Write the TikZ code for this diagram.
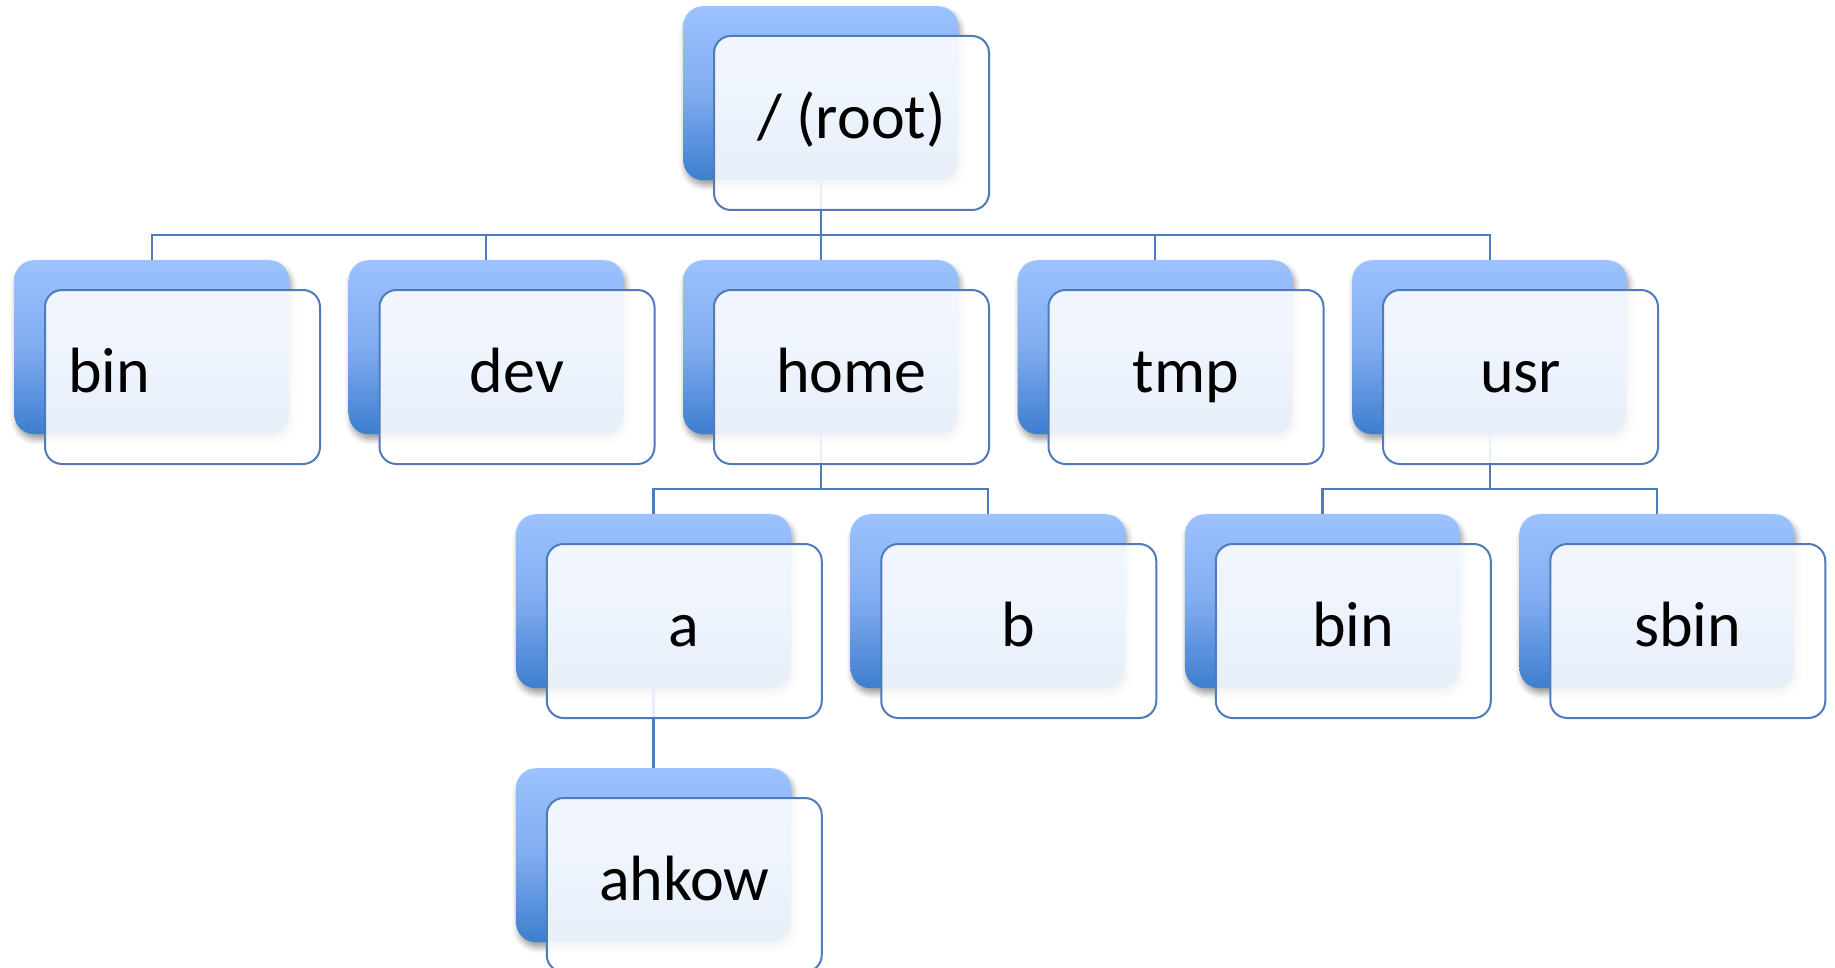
\documentclass[tikz,border=0pt]{standalone}
\usepackage{fontspec}
\setmainfont{Carlito}
\usetikzlibrary{shadows.blur}

\definecolor{edgeblue}{RGB}{79,123,186}
\definecolor{tiletop}{RGB}{156,194,255}
\definecolor{tilemid}{RGB}{128,172,240}
\definecolor{tilebot}{RGB}{61,126,207}

\tikzset{
  backbox/.style={rectangle, rounded corners=20pt, minimum width=275pt,
    minimum height=174pt, inner sep=0pt, anchor=north west, draw=none,
    top color=tiletop, bottom color=tilebot, middle color=tilemid,
    blur shadow={shadow xshift=2pt, shadow yshift=-5pt,
      shadow blur radius=6pt, shadow opacity=40}},
  frontbox/.style={rectangle, rounded corners=17pt, minimum width=275pt,
    minimum height=174pt, inner sep=0pt, anchor=north west,
    draw=edgeblue, line width=2pt, fill=white, fill opacity=0.88,
    text opacity=1, text=black, font=\fontsize{64}{72}\selectfont,
    text height=44pt, text depth=13pt},
  lefttext/.style={text width=229pt, align=left, inner xsep=23pt},
  conn/.style={draw=edgeblue, line width=2.2pt}
}

\begin{document}
\begin{tikzpicture}[x=1pt,y=-1pt]
\useasboundingbox (0,0) rectangle (1835,968);

% coloured back tiles
\node[backbox] (root-b)  at (683,6) {};
\node[backbox] (bin-b)   at (14,260) {};
\node[backbox] (dev-b)   at (348.5,260) {};
\node[backbox] (home-b)  at (683,260) {};
\node[backbox] (tmp-b)   at (1017.5,260) {};
\node[backbox] (usr-b)   at (1352,260) {};
\node[backbox] (a-b)     at (515.75,514) {};
\node[backbox] (b-b)     at (850.25,514) {};
\node[backbox] (usrbin-b) at (1184.75,514) {};
\node[backbox] (sbin-b)  at (1519.25,514) {};
\node[backbox] (ahkow-b) at (515.75,768) {};

% tree connectors
\foreach \c in {bin,dev,home,tmp,usr}
  \draw[conn] (root-b.south) -- ++(0,54.5) -| (\c-b.north);
\foreach \c in {a,b}
  \draw[conn] (home-b.south) -- ++(0,54.5) -| (\c-b.north);
\foreach \c in {usrbin,sbin}
  \draw[conn] (usr-b.south) -- ++(0,54.5) -| (\c-b.north);
\draw[conn] (a-b.south) -- (ahkow-b.north);

% labelled front panels
\node[frontbox] (root)   at (713,35) {/ (root)};
\node[frontbox,lefttext] (bin) at (44,289) {bin};
\node[frontbox] (dev)    at (378.5,289) {dev};
\node[frontbox] (home)   at (713,289) {home};
\node[frontbox] (tmp)    at (1047.5,289) {tmp};
\node[frontbox] (usr)    at (1382,289) {usr};
\node[frontbox] (a)      at (545.75,543) {a};
\node[frontbox] (b)      at (880.25,543) {b};
\node[frontbox] (usrbin) at (1214.75,543) {bin};
\node[frontbox] (sbin)   at (1549.25,543) {sbin};
\node[frontbox] (ahkow)  at (545.75,797) {ahkow};
\end{tikzpicture}
\end{document}
